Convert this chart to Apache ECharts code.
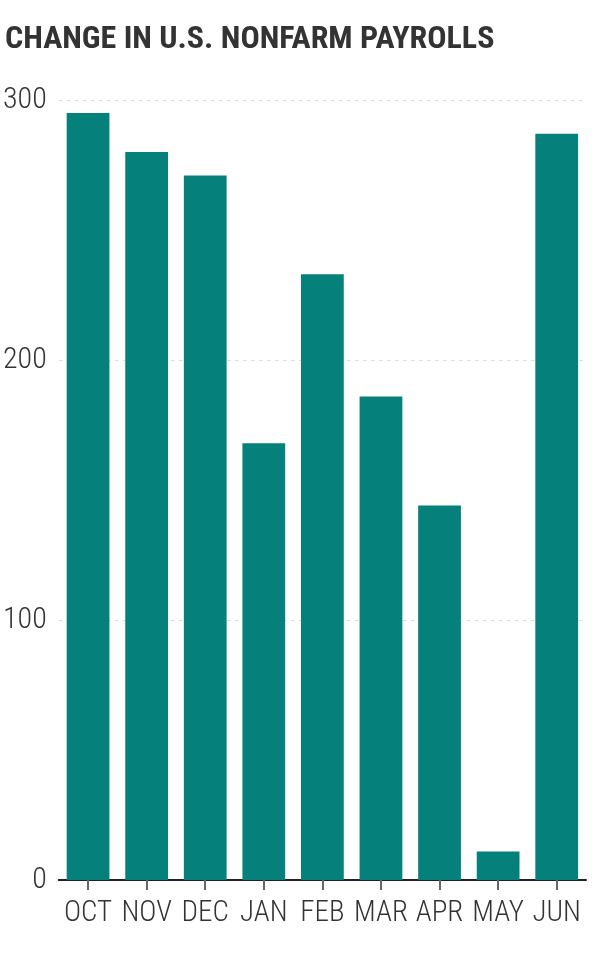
<!DOCTYPE html>
<html><head><meta charset="utf-8">
<script src="https://cdn.jsdelivr.net/npm/echarts@6/dist/echarts.min.js"></script>
<style>html,body{margin:0;padding:0;background:#fff}#c{width:600px;height:960px}</style>
</head><body><div id="c"></div>
<script>
const categories = ['OCT','NOV','DEC','JAN','FEB','MAR','APR','MAY','JUN'];
const payrolls = [295, 280, 271, 168, 233, 186, 144, 11, 287];
const yTicks = [0, 100, 200, 300];
const FONT = '"Roboto Condensed","Liberation Sans Narrow","DejaVu Sans Condensed",sans-serif';
const chart = echarts.init(document.getElementById('c'));
chart.setOption({
  animation: false,
  title: {
    text: 'CHANGE IN U.S. NONFARM PAYROLLS',
    left: 0, top: 19,
    textStyle: {fontFamily: FONT, fontSize: 32, fontWeight: 'bold', color: '#333'}
  },
  grid: {left: 55, right: 14, top: 100, bottom: 80},
  xAxis: {
    type: 'category', data: categories,
    axisLine: {show: true, lineStyle: {color: '#222', width: 2}},
    axisTick: {show: true, alignWithLabel: true, interval: 0, length: 10, lineStyle: {color: '#666', width: 2}},
    axisLabel: {interval: 0, hideOverlap: false, fontFamily: FONT, fontWeight: 300, fontSize: 29, color: '#333', margin: 19}
  },
  yAxis: {
    type: 'value', min: yTicks[0], max: yTicks[yTicks.length-1], interval: 100,
    axisLine: {show: false}, axisTick: {show: false},
    splitLine: {lineStyle: {color: '#ddd', type: [4, 4], width: 1}},
    axisLabel: {fontFamily: FONT, fontWeight: 300, fontSize: 30, color: '#333', margin: 12}
  },
  series: [{
    type: 'bar', data: payrolls, barCategoryGap: '27%',
    itemStyle: {color: '#06807a'}
  }]
});
</script></body></html>
